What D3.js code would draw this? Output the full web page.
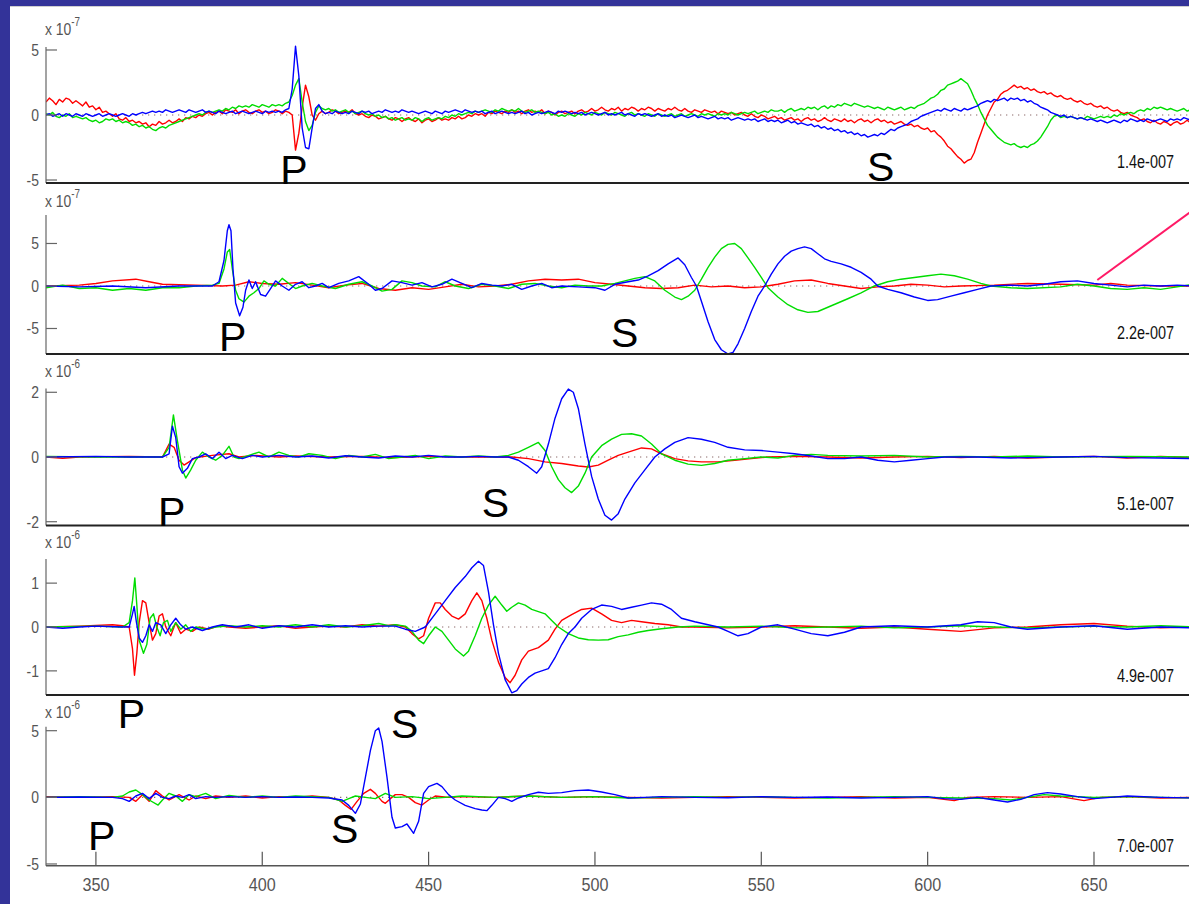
<html>
<meta name="viewport" content="width=device-width, initial-scale=1">
<head>
<script src="https://d3js.org/d3.v7.js"></script>
<style>
  body { margin: 0; background: #333399; }
  svg { display: block; }
</style>
</head>
<body>
<svg width="1189" height="904"></svg>
<script>
// ---- data (time axis in samples, amplitudes in axis units) ----
var xTicks = [350, 400, 450, 500, 550, 600, 650];
var ampLabels = ["1.4e-007", "2.2e-007", "5.1e-007", "4.9e-007", "7.0e-007"];
var expLabels = ["-7", "-7", "-6", "-6", "-6"];
var yTicks1 = [-5, 0, 5], yTicks2 = [-5, 0, 5], yTicks3 = [-2, 0, 2], yTicks4 = [-1, 0, 1], yTicks5 = [-5, 0, 5];

// panel 1: noisy record, one value per sample from 335 to 680
var p1Times = d3.range(335, 681, 1);
var p1Red = [1.0,1.3,1.1,0.8,1.2,1.0,1.3,1.2,0.9,1.1, 0.9,0.7,1.0,0.6,0.7,0.4,0.6,0.2,0.3,0.1,
 -0.1,0.1,-0.3,-0.4,-0.2,-0.5,-0.4,-0.6,-0.5,-0.7, -0.6,-0.9,-0.7,-0.8,-0.5,-0.7,-0.6,-0.4,-0.6,-0.5,
 -0.3,-0.5,-0.2,-0.3,-0.1,-0.2,0.0,-0.1,0.1,0.2, 0.0,0.2,0.3,0.1,0.4,0.3,0.2,0.4,0.1,0.3,
 0.4,0.2,0.1,0.3,0.4,0.2,0.3,0.1,0.2,0.4, 0.3,0.1,0.3,0.2,0.0,-2.7,-1.4,0.6,2.3,1.4,
 0.0,-0.4,0.1,0.3,0.1,0.2,0.4,0.3,0.1,0.2, 0.3,0.2,0.4,0.1,0.0,0.1,-0.1,-0.2,0.0,-0.1,
 -0.3,-0.2,-0.1,-0.3,-0.4,-0.2,-0.3,-0.5,-0.3,-0.2, -0.4,-0.5,-0.3,-0.6,-0.4,-0.3,-0.5,-0.4,-0.2,-0.4,
 -0.3,-0.4,-0.2,-0.3,-0.1,-0.3,-0.2,0.0,-0.1,0.1, 0.0,0.1,-0.1,0.2,0.1,0.3,0.2,0.1,0.3,0.2,
 0.4,0.2,0.3,0.1,0.3,0.4,0.2,0.3,0.2,0.4, 0.1,0.3,0.2,0.0,0.2,0.3,0.1,0.2,0.3,0.1,
 0.3,0.4,0.2,0.3,0.5,0.3,0.4,0.6,0.4,0.3, 0.5,0.4,0.6,0.3,0.5,0.4,0.6,0.5,0.3,0.5,
 0.4,0.6,0.5,0.3,0.5,0.4,0.3,0.5,0.4,0.6, 0.4,0.3,0.5,0.3,0.2,0.4,0.3,0.2,0.4,0.3,
 0.2,0.3,0.1,0.3,0.2,0.1,0.2,0.0,0.1,0.2, 0.0,-0.1,0.1,-0.1,-0.2,0.0,-0.1,-0.3,-0.2,-0.1,
 -0.3,-0.2,-0.4,-0.3,-0.2,-0.4,-0.3,-0.5,-0.3,-0.2, -0.4,-0.3,-0.5,-0.4,-0.2,-0.4,-0.5,-0.3,-0.4,-0.5,
 -0.3,-0.5,-0.4,-0.6,-0.4,-0.3,-0.5,-0.4,-0.6,-0.4, -0.3,-0.5,-0.4,-0.6,-0.5,-0.7,-0.6,-0.5,-0.7,-0.8,
 -0.7,-0.9,-0.8,-1.0,-1.1,-1.0,-1.3,-1.2,-1.5,-1.7, -2.0,-2.4,-2.6,-2.9,-3.2,-3.4,-3.7,-3.5,-3.4,-2.9,
 -2.1,-1.4,-0.7,0.0,0.5,1.0,1.2,1.6,1.8,1.9, 2.1,2.3,2.1,2.2,2.0,2.1,1.9,2.0,1.8,1.7,
 1.8,1.6,1.7,1.5,1.4,1.5,1.3,1.2,1.3,1.1, 1.0,1.1,0.9,0.8,0.9,0.7,0.6,0.7,0.5,0.6,
 0.4,0.3,0.4,0.2,0.1,0.2,0.0,-0.1,-0.2,-0.4, -0.3,-0.5,-0.6,-0.4,-0.6,-0.7,-0.5,-0.6,-0.8,-0.6,
 -0.5,-0.7,-0.6,-0.4,-0.6,-0.7];
var p1Green = [0.1,0.0,0.2,-0.1,-0.2,0.0,-0.1,0.1,-0.2,-0.1, -0.2,-0.3,-0.2,-0.4,-0.5,-0.4,-0.6,-0.5,-0.3,-0.4,
 -0.3,-0.5,-0.4,-0.6,-0.5,-0.6,-0.8,-0.7,-0.9,-0.8, -1.0,-0.9,-1.1,-1.2,-1.0,-0.9,-1.0,-0.8,-0.7,-0.6,
 -0.5,-0.4,-0.3,-0.2,-0.1,0.0,0.1,0.0,0.2,0.3, 0.2,0.3,0.4,0.3,0.5,0.4,0.6,0.5,0.7,0.6,
 0.7,0.6,0.8,0.7,0.6,0.8,0.7,0.6,0.8,0.7, 0.8,0.7,0.9,1.0,1.5,2.3,2.8,1.0,-0.5,-1.2,
 -0.8,0.2,0.7,0.5,0.4,0.5,0.3,0.4,0.2,0.3, 0.4,0.2,0.3,0.1,0.2,0.3,0.1,0.0,0.1,-0.1,
 0.0,-0.2,-0.1,-0.3,-0.2,-0.4,-0.3,-0.2,-0.4,-0.3, -0.4,-0.2,-0.3,-0.5,-0.3,-0.2,-0.4,-0.3,-0.2,-0.3,
 -0.1,-0.2,0.0,-0.1,0.1,0.0,0.1,0.2,0.1,0.3, 0.2,0.3,0.4,0.3,0.2,0.4,0.3,0.5,0.4,0.3,
 0.4,0.3,0.5,0.3,0.2,0.3,0.4,0.2,0.3,0.2, 0.1,0.2,0.0,0.1,-0.1,0.0,-0.1,0.1,0.0,-0.1,
 0.1,0.0,0.2,0.1,0.0,0.2,0.1,0.0,0.2,0.1, 0.0,0.2,0.1,0.0,-0.1,0.1,0.2,0.0,0.1,0.0,
 -0.1,0.1,0.0,-0.1,0.1,0.0,-0.1,0.0,0.1,-0.1, 0.0,0.1,-0.1,0.0,0.1,0.0,-0.1,0.1,0.0,0.1,
 0.0,-0.1,0.1,0.0,0.1,0.0,0.2,0.1,0.0,0.1, 0.2,0.1,0.2,0.3,0.1,0.2,0.3,0.2,0.4,0.3,
 0.3,0.4,0.2,0.4,0.5,0.3,0.4,0.5,0.4,0.6, 0.5,0.6,0.4,0.6,0.7,0.5,0.7,0.6,0.8,0.7,
 0.9,0.8,0.7,0.9,0.8,0.7,0.6,0.7,0.6,0.5, 0.6,0.5,0.4,0.6,0.5,0.4,0.5,0.6,0.4,0.5,
 0.6,0.5,0.7,0.8,0.9,1.1,1.3,1.4,1.6,1.9, 2.0,2.3,2.4,2.5,2.6,2.8,2.6,2.4,1.9,1.3,
 0.8,0.2,-0.3,-0.8,-1.1,-1.4,-1.7,-1.9,-2.1,-2.2, -2.3,-2.2,-2.4,-2.5,-2.4,-2.5,-2.3,-2.2,-2.0,-1.7,
 -1.3,-0.9,-0.4,-0.1,0.0,-0.2,-0.1,-0.2,-0.1,-0.2, -0.3,-0.2,-0.3,-0.1,-0.2,-0.3,-0.2,-0.1,-0.2,-0.1,
 -0.2,0.0,-0.1,0.1,0.0,0.1,0.2,0.1,0.3,0.4, 0.3,0.5,0.4,0.6,0.5,0.6,0.5,0.4,0.5,0.4,
 0.3,0.4,0.5,0.3,0.4,0.5];
var p1Blue = [0.0,0.1,-0.1,0.0,0.1,-0.1,0.1,0.0,-0.1,0.1, 0.0,-0.1,0.1,0.0,-0.1,0.0,0.1,-0.1,0.0,0.1,
 0.0,-0.1,0.0,0.1,0.0,-0.1,0.1,0.0,0.1,0.2, 0.1,0.2,0.3,0.2,0.3,0.2,0.4,0.3,0.2,0.3,
 0.4,0.3,0.2,0.4,0.3,0.2,0.3,0.4,0.2,0.3, 0.2,0.1,0.3,0.2,0.1,0.2,0.3,0.1,0.2,0.3,
 0.2,0.1,0.2,0.3,0.2,0.1,0.3,0.2,0.3,0.2, 0.3,0.2,0.4,0.5,2.0,5.3,3.0,-1.0,-2.5,-2.6,
 -1.0,0.5,0.8,0.3,0.1,0.2,0.1,0.3,0.2,0.1, 0.2,0.1,0.3,0.2,0.1,0.3,0.2,0.3,0.1,0.2,
 0.3,0.2,0.4,0.3,0.2,0.3,0.2,0.4,0.3,0.2, 0.3,0.2,0.1,0.2,0.3,0.2,0.1,0.3,0.2,0.1,
 0.3,0.2,0.3,0.4,0.3,0.2,0.4,0.3,0.2,0.3, 0.2,0.3,0.1,0.2,0.3,0.1,0.2,0.3,0.2,0.1,
 0.2,0.1,0.2,0.3,0.1,0.2,0.0,0.1,0.2,0.1, 0.2,0.3,0.2,0.1,0.3,0.2,0.3,0.2,0.1,0.2,
 0.1,0.2,0.0,0.1,0.2,0.1,0.0,0.1,0.2,0.0, 0.1,0.0,0.1,0.2,0.0,0.1,0.0,-0.1,0.1,0.0,
 0.1,0.0,-0.1,0.0,0.1,-0.1,0.0,-0.1,0.0,-0.2, -0.1,0.0,-0.1,-0.2,-0.1,0.0,-0.2,-0.1,-0.2,-0.3,
 -0.2,-0.1,-0.3,-0.2,-0.3,-0.2,-0.4,-0.3,-0.2,-0.3, -0.4,-0.3,-0.4,-0.3,-0.5,-0.4,-0.3,-0.5,-0.4,-0.5,
 -0.4,-0.6,-0.5,-0.4,-0.6,-0.5,-0.7,-0.6,-0.7,-0.8, -0.7,-0.9,-0.8,-1.0,-0.9,-1.1,-1.0,-1.2,-1.1,-1.3,
 -1.2,-1.4,-1.3,-1.5,-1.4,-1.6,-1.5,-1.7,-1.6,-1.5, -1.6,-1.4,-1.5,-1.3,-1.1,-1.2,-1.0,-0.9,-0.8,-0.7,
 -0.5,-0.4,-0.3,-0.1,0.0,0.1,0.2,0.3,0.4,0.3, 0.5,0.4,0.3,0.5,0.4,0.3,0.5,0.4,0.5,0.6,
 0.7,0.9,1.0,1.1,1.0,1.2,1.1,1.2,1.3,1.1, 1.3,1.2,1.3,1.1,1.2,1.0,1.1,0.9,0.8,0.6,
 0.5,0.4,0.2,0.1,0.0,-0.1,0.0,-0.2,-0.1,-0.2, -0.3,-0.2,-0.3,-0.4,-0.3,-0.4,-0.5,-0.4,-0.5,-0.6,
 -0.5,-0.4,-0.5,-0.6,-0.4,-0.5,-0.3,-0.4,-0.5,-0.4, -0.5,-0.3,-0.4,-0.5,-0.4,-0.3,-0.4,-0.5,-0.3,-0.4,
 -0.3,-0.4,-0.2,-0.3,-0.4,-0.3];

// panel 2 ([time, value] pairs)
var p2Red = [[335,0],[345,0.1],[350,0.3],[355,0.6],[362,0.8],[366,0.5],[370,0.2],[380,0.1],[388,0],[392,0.1],[396,0.5],[400,0.3],[405,0.2],[410,0.4],[415,0.1],[420,-0.2],[425,0.1],[430,0.3],[435,-0.3],[440,-0.5],[445,-0.2],[450,-0.4],[455,-0.1],[460,0.2],[465,-0.1],[470,0],[475,0.2],[480,0.6],[485,0.8],[490,0.7],[495,0.8],[500,0.4],[505,0.2],[510,0.0],[515,-0.2],[520,-0.3],[525,-0.2],[530,0.1],[535,-0.1],[540,0],[545,-0.2],[550,-0.1],[555,0.2],[560,0.6],[565,0.7],[570,0.3],[575,0],[580,-0.3],[585,-0.1],[590,0],[595,0.2],[600,0.1],[605,-0.1],[610,0],[620,0.1],[630,0.3],[640,0.2],[650,0.1],[655,0.3],[660,0.1],[670,0],[680,0]];
var p2Green = [[335,-0.2],[340,0.1],[345,-0.3],[350,-0.2],[355,-0.5],[360,-0.3],[365,-0.5],[370,-0.2],[375,-0.2],[380,0],[385,0.1],[387,0.3],[388.5,2],[389.5,4],[390.2,4.3],[391,2],[392,-0.5],[393,-1.5],[394.5,-1.9],[396,-1.2],[397.5,-0.8],[399,-0.3],[400.5,0.6],[402,0.2],[404,0],[406,0.9],[408,0.3],[410,-0.3],[412,0],[415,0.3],[418,0],[422,-0.3],[426,0.2],[430,0.5],[433,0],[436,-0.6],[439,-0.4],[442,0.6],[445,0.4],[448,0],[452,-0.1],[455,0.5],[458,0],[462,-0.3],[466,0.2],[470,0],[474,-0.3],[478,0.2],[482,0.3],[486,0],[490,-0.2],[494,0.1],[498,0],[502,0],[506,0.3],[509,0.6],[512,0.9],[515,1.1],[518,0.6],[521,-0.5],[524,-1.3],[526,-1.6],[528,-1.2],[530,-0.5],[532,0.8],[534,2.2],[536,3.4],[538,4.4],[540,4.9],[542,5.0],[544,4.4],[546,3.3],[548,2.2],[550,1.0],[552,-0.2],[555,-1.3],[558,-2.2],[561,-2.8],[564,-3.1],[567,-3.0],[570,-2.5],[573,-2.0],[576,-1.5],[580,-0.8],[584,0],[588,0.5],[592,0.8],[596,1.0],[600,1.2],[604,1.4],[608,1.2],[612,0.8],[616,0.3],[619,0],[625,-0.2],[630,-0.3],[640,-0.1],[645,0.2],[650,0],[655,-0.3],[660,-0.4],[665,-0.2],[670,-0.4],[675,-0.1],[680,0.2]];
var p2Blue = [[335,0],[345,-0.1],[355,0],[365,-0.2],[375,0],[385,0],[387,0.5],[388.5,3],[389.5,6.5],[390,7.2],[390.6,6.5],[391.2,2],[392,-2],[393.2,-3.5],[394.2,-2.5],[395,-0.5],[396,0.7],[397,-0.3],[398,0.5],[399.5,-1.0],[401,-1.2],[402.5,-0.3],[404,0.6],[406,0],[408,-0.5],[410,0.2],[412,0.5],[414,-0.2],[416,0],[418,0.3],[420,-0.2],[423,0.3],[426,0.6],[429,1.1],[432,0.2],[434,-0.5],[436,-0.3],[439,0.6],[442,0.4],[445,0.1],[448,0.4],[451,-0.1],[454,0.2],[457,0.8],[460,0.3],[463,-0.2],[466,0.3],[469,0.1],[472,0],[475,0.2],[478,-0.4],[481,0],[484,0.3],[487,-0.2],[490,0],[495,-0.1],[500,-0.2],[503,-0.5],[506,0.2],[510,0.5],[513,0.7],[516,1.2],[519,1.8],[522,2.6],[525,3.3],[527,2.5],[529,1],[530.5,0],[532,-1.8],[534,-4.2],[536,-6.3],[538,-7.5],[540,-8],[541.5,-7.8],[543,-6.8],[545,-5],[547,-3],[549,-1.2],[551,0],[553,1.4],[555,2.6],[557,3.5],[559,4.1],[561,4.4],[563,4.6],[565,4.4],[567,3.8],[569,3.2],[571,2.9],[574,2.6],[577,2.2],[580,1.6],[583,0.8],[585,0],[588,-0.4],[592,-0.8],[596,-1.3],[600,-1.7],[603,-1.6],[607,-1.2],[611,-0.8],[615,-0.4],[619,0],[625,0.1],[630,0],[635,0.2],[640,0.5],[645,0.6],[650,0.3],[655,0.1],[660,-0.1],[665,0.1],[670,0],[675,0.1],[680,0]];
// annotation stroke in panel 2
var p2Pointer = [[651,0.7],[680,9.0]];

// panel 3
var p3Red = [[335,0],[340,-0.04],[345,0],[360,0.02],[370,0],[372,0.4],[373.5,0.3],[375,-0.1],[376.5,-0.25],[378,-0.15],[380,-0.02],[385,0.05],[390,0.1],[393,0],[398,0.05],[405,0],[410,0.03],[420,0],[430,0.02],[440,-0.02],[450,0.02],[460,0],[470,0],[475,0],[480,-0.05],[485,-0.15],[490,-0.2],[495,-0.28],[498,-0.31],[501,-0.25],[504,-0.1],[507,0.05],[510,0.15],[514,0.28],[517,0.25],[520,0.1],[524,-0.05],[528,-0.12],[532,-0.15],[537,-0.15],[542,-0.1],[547,-0.05],[552,0],[560,0.02],[570,0],[580,-0.03],[590,0],[600,0.02],[610,-0.02],[620,0.02],[630,-0.03],[640,0],[650,0.02],[660,-0.03],[670,0.02],[680,-0.02]];
var p3Green = [[335,0.02],[350,0],[360,0],[370,0],[372,0.3],[373.3,1.3],[374.5,0.5],[376,-0.4],[377,-0.65],[378.5,-0.4],[380,-0.1],[382,0.15],[384,0],[386,-0.1],[388,0.05],[390,0.33],[391.5,0],[393,-0.05],[396,0.05],[399,0.15],[402,0],[405,0.15],[408,0.05],[411,0],[414,0.1],[418,0.05],[422,-0.05],[426,0.05],[430,0],[434,0.08],[438,-0.05],[442,0],[446,0.05],[450,-0.05],[455,0.03],[460,0],[465,0.03],[470,0],[474,0.05],[477,0.15],[480,0.3],[483,0.45],[485,0.2],[487,-0.3],[489,-0.7],[491,-0.95],[493,-1.1],[495,-0.9],[497,-0.5],[499,0],[502,0.35],[505,0.55],[508,0.7],[511,0.72],[514,0.65],[517,0.4],[520,0.1],[524,-0.1],[528,-0.22],[532,-0.26],[536,-0.2],[540,-0.1],[545,-0.05],[550,0],[555,-0.03],[560,0.05],[565,0.08],[570,0.05],[580,0.03],[590,0.05],[600,0],[610,0.02],[620,0],[630,0.03],[640,0],[660,0.02],[680,0]];
var p3Blue = [[335,0],[350,0.02],[360,0],[370,0],[372,0.1],[373,0.95],[374,0.6],[375,-0.3],[376,-0.5],[377.5,-0.35],[379,-0.05],[381,0],[383,0.1],[385,-0.05],[387,0.15],[389,-0.05],[391,0.05],[394,-0.05],[397,0.05],[400,0],[405,0.05],[410,0],[415,0.03],[420,-0.03],[425,0.04],[430,0],[435,-0.03],[440,0.03],[445,0],[450,0.05],[455,0],[460,0],[465,0.02],[470,0],[474,0],[477,-0.1],[480,-0.3],[482.5,-0.5],[484,-0.3],[486,0.4],[488,1.2],[490,1.8],[492,2.1],[493.5,2.0],[495,1.5],[497,0.4],[499,-0.6],[501,-1.3],[503,-1.8],[505,-1.95],[507,-1.75],[509,-1.3],[512,-0.8],[515,-0.4],[518,0],[521,0.25],[524,0.45],[528,0.6],[532,0.55],[536,0.45],[540,0.3],[545,0.22],[550,0.2],[555,0.15],[560,0.1],[565,0.03],[570,-0.05],[575,-0.05],[580,0],[585,-0.1],[590,-0.15],[595,-0.1],[600,-0.05],[605,0],[615,0],[625,-0.03],[640,0],[650,0.02],[660,-0.02],[670,-0.03],[680,-0.05]];

// panel 4
var p4Red = [[335,0],[345,0.02],[355,0.05],[358,0.03],[360,0],[361,-0.5],[361.6,-1.1],[362.3,-0.6],[363,0.1],[364,0.6],[365,0.55],[366,0.1],[367,-0.3],[368,-0.15],[369,0.25],[370,0.3],[371,0],[372.5,-0.2],[374,0.1],[375.5,-0.15],[377,-0.05],[379,-0.1],[381,0],[384,-0.05],[387,0.03],[390,0],[395,-0.03],[400,0],[405,0.03],[410,-0.03],[415,0],[420,0.02],[425,0],[430,0.05],[435,0.02],[440,0.05],[443,0],[445,-0.15],[447,-0.27],[448.5,-0.2],[450,0.2],[452,0.55],[453.5,0.55],[455,0.4],[457,0.25],[459,0.18],[461,0.3],[463,0.6],[464.5,0.78],[466,0.6],[467.5,0.2],[469,-0.3],[471,-0.8],[473,-1.15],[474.5,-1.27],[476,-1.1],[478,-0.75],[480,-0.55],[483,-0.47],[486,-0.3],[488,-0.05],[490,0.15],[493,0.28],[496,0.4],[499,0.43],[502,0.3],[505,0.15],[508,0.1],[511,0.15],[514,0.12],[518,0.08],[522,0.05],[526,0],[530,0],[540,-0.02],[550,0],[560,0.03],[570,0],[580,-0.03],[590,0],[600,-0.05],[610,-0.1],[620,-0.02],[630,0],[640,0.05],[650,0.08],[660,0.02],[670,-0.02],[680,0]];
var p4Green = [[335,0],[350,0.02],[358,0],[360,0.1],[361,0.6],[361.7,1.12],[362.3,0.5],[363,-0.3],[364.3,-0.6],[365.3,-0.4],[366.3,0.2],[367.3,0.3],[368.3,0],[369.3,-0.2],[370.3,0.1],[371.5,0.15],[372.5,-0.1],[374,0.1],[375.5,-0.05],[377,0.05],[378.5,-0.1],[380,0],[383,-0.05],[386,0],[390,0.03],[395,0],[400,0.03],[405,0],[410,0.05],[415,0],[420,0.05],[425,0],[430,0.03],[435,0.08],[438,0.03],[440,0.05],[443,0.02],[445,-0.1],[447,-0.3],[448.5,-0.38],[450,-0.2],[452,0],[454,-0.1],[456,-0.3],[458,-0.5],[460.5,-0.66],[462,-0.55],[464,-0.2],[466,0.2],[468,0.5],[470,0.7],[472,0.5],[473.5,0.36],[475,0.45],[477,0.55],[479,0.5],[481,0.4],[483,0.35],[485,0.3],[487,0.15],[489,0],[492,-0.15],[495,-0.25],[498,-0.29],[501,-0.3],[504,-0.29],[507,-0.22],[510,-0.18],[513,-0.12],[516,-0.08],[520,-0.04],[525,0],[530,0.02],[540,0],[550,0.02],[560,-0.02],[570,0],[580,0.02],[590,-0.02],[600,0],[610,0.03],[620,0],[630,-0.02],[640,0],[650,0.02],[660,0],[670,0.03],[680,0]];
var p4Blue = [[335,0],[340,-0.03],[345,0],[350,0.02],[358,0],[360,0],[361,0.3],[361.5,0.47],[362.2,0.1],[363,-0.25],[364,-0.35],[365,-0.2],[366,0.05],[367,-0.1],[368,0.1],[369.5,0.05],[371,-0.15],[372.5,0.05],[374,0.2],[375.5,0.05],[377,-0.05],[379,0],[382,-0.08],[385,0],[388,0.05],[392,0],[396,0.05],[400,-0.03],[405,0.03],[410,0],[415,0.05],[420,0],[425,0.03],[430,0],[435,0.02],[440,0.02],[443,-0.05],[446,-0.1],[449,0],[452,0.3],[455,0.6],[458,0.9],[461,1.15],[463,1.35],[465,1.5],[466.5,1.4],[468,0.8],[469.5,0.05],[471,-0.6],[473,-1.2],[475,-1.5],[476.5,-1.45],[478,-1.3],[480,-1.15],[482,-1.05],[484,-1.0],[486,-0.95],[488,-0.7],[490,-0.4],[492,-0.15],[494,0],[496,0.2],[499,0.4],[502,0.5],[505,0.47],[508,0.4],[511,0.45],[514,0.5],[517,0.55],[520,0.52],[523,0.4],[526,0.2],[530,0.12],[534,0.05],[537,0],[540,-0.1],[543,-0.2],[546,-0.15],[550,0],[555,0.05],[560,-0.05],[565,-0.15],[570,-0.2],[575,-0.12],[580,0],[590,0.03],[600,0],[610,0.05],[615,0.12],[620,0.1],[625,0],[630,-0.05],[640,0],[650,0.03],[660,-0.05],[670,0],[680,-0.02]];

// panel 5
var p5Red = [[335,0.05],[345,0],[355,0.05],[360,0],[362,-0.3],[364,0.2],[366,-0.3],[368,0.5],[370,0.1],[372,-0.2],[375,0.2],[378,-0.2],[380,0.1],[383,-0.1],[386,0.1],[390,0],[395,0.1],[400,-0.05],[405,0.05],[410,0],[415,0.1],[420,0],[423,-0.2],[425,-0.6],[426.7,-0.9],[428.5,-0.3],[430.5,0.3],[432.5,0.6],[434,0.3],[436,-0.3],[437,-0.45],[438.5,-0.1],[440,0.2],[442,0.2],[444,0],[446,-0.4],[448,-0.58],[450,-0.2],[452,0.1],[456,0],[460,0.05],[470,0],[480,0.1],[490,0],[500,0.05],[510,0],[520,-0.05],[530,0],[540,0.05],[550,0],[560,-0.05],[570,0],[580,0.05],[590,-0.05],[600,0],[608,-0.25],[612,0],[620,0.05],[630,0],[640,0.05],[647,-0.25],[652,0],[660,0.05],[670,-0.05],[680,0]];
var p5Green = [[335,0],[345,0.05],[355,0],[358,0.1],[360,0.4],[362,0.55],[364,0.2],[366,-0.2],[368.7,-0.58],[370,-0.2],[372,0.3],[374,0.1],[376,-0.3],[378,0.2],[380,0.05],[383,0.3],[386,-0.1],[390,0.15],[395,0],[400,0.1],[405,0],[410,0.1],[420,0],[424,-0.3],[426,-0.1],[428,0.1],[431,0],[434,-0.1],[437,0.3],[440,0],[445,0.05],[450,-0.1],[455,0],[460,0.1],[470,0],[480,0.1],[490,0],[500,0.05],[510,-0.05],[520,0],[530,0.05],[540,0],[550,0.05],[560,0],[570,-0.05],[580,0],[590,0.05],[600,0],[610,-0.05],[620,-0.1],[625,-0.2],[630,0],[635,0.2],[640,0.1],[650,0],[660,0.05],[670,0],[680,-0.05]];
var p5Blue = [[335,0],[345,0.03],[355,0],[358,-0.1],[360,-0.3],[362,0.1],[364,0.3],[366,-0.1],[368,0.3],[370,0],[372,-0.1],[374,0.1],[376,0],[378,0.2],[380,-0.1],[383,0.05],[386,0],[390,0.05],[395,0],[400,0.05],[405,0],[410,0.02],[415,0],[420,-0.05],[424,-0.2],[426,-0.6],[428,-1.2],[429.5,-0.5],[431,1.5],[432.5,3.5],[434,5.0],[435,5.2],[436,4.2],[437.5,1.5],[439,-1.5],[440,-2.3],[442,-2.2],[443.5,-2.0],[445.5,-2.7],[447,-1.8],[448.5,0.3],[450,0.8],[452.5,1.05],[454,0.8],[456,0.2],[458,-0.2],[461,-0.6],[464,-0.85],[466,-0.95],[467.5,-1.0],[469,-0.6],[471,0],[473,-0.1],[475,-0.3],[477,-0.05],[480,0.2],[483,0.38],[486,0.3],[490,0.35],[494,0.5],[498,0.55],[502,0.4],[506,0.2],[510,-0.05],[515,0],[520,0.05],[530,0],[540,-0.03],[550,0.05],[560,0],[570,0.03],[580,-0.05],[590,0],[600,0.05],[605,-0.1],[610,-0.15],[615,0],[620,-0.2],[624,-0.35],[628,-0.15],[632,0.2],[636,0.35],[640,0.25],[645,0.05],[650,-0.1],[655,0],[660,0.1],[670,0],[680,-0.05]];

// phase picks: [time, value] where each letter sits (left edge, baseline)
var pPicks = [[405.4, -5.3], [387.0, -7.65], [368.7, -2.12], [356.6, -2.3], [347.6, -3.95]];
var sPicks = [[581.8, -5.05], [504.8, -7.18], [466.0, -1.85], [438.7, -2.53], [420.7, -3.43]];

// ---- layout ----
var panels = [
  {red: p1Times.map(function(t, i){ return [t, p1Red[i]]; }),
   green: p1Times.map(function(t, i){ return [t, p1Green[i]]; }),
   blue: p1Times.map(function(t, i){ return [t, p1Blue[i]]; }),
   domain: [-5.23, 5.23], range: [183, 47], ticks: yTicks1, expY: 35, ampY: 168},
  {red: p2Red, green: p2Green, blue: p2Blue,
   domain: [-8, 8.35], range: [354, 215], ticks: yTicks2, expY: 207, ampY: 339},
  {red: p3Red, green: p3Green, blue: p3Blue,
   domain: [-2.12, 2.12], range: [525.6, 388.4], ticks: yTicks3, expY: 377, ampY: 510},
  {red: p4Red, green: p4Green, blue: p4Blue,
   domain: [-1.55, 1.55], range: [695, 559], ticks: yTicks4, expY: 548, ampY: 682},
  {red: p5Red, green: p5Green, blue: p5Blue,
   domain: [-5.13, 5.3], range: [865.7, 726.7], ticks: yTicks5, expY: 718, ampY: 852}
];

var sans = "'Liberation Sans', Arial, sans-serif";
var x = d3.scaleLinear().domain([335, 680]).range([46, 1193.8]);

// squeezed text, to get the tall narrow matlab font
function narrowText(g, px, py, anchor, size, sx, fill, str) {
  return g.append("text")
    .attr("transform", "translate(" + px + "," + py + ") scale(" + sx + ",1)")
    .attr("text-anchor", anchor)
    .style("font-family", sans).style("font-size", size + "px").style("fill", fill)
    .text(str);
}

var mySvg = d3.select("svg");
mySvg.append("rect").attr("x", 0).attr("y", 0).attr("width", 1189).attr("height", 904).style("fill", "#333399");
mySvg.append("rect").attr("x", 10).attr("y", 6).attr("width", 1179).attr("height", 898).style("fill", "white");
mySvg.append("line").attr("x1", 10).attr("x2", 1189).attr("y1", 6.5).attr("y2", 6.5)
  .style("stroke", "#cfcfcf").style("stroke-width", 1);

var defs = mySvg.append("defs");

panels.forEach(function(p, k) {
  var y = d3.scaleLinear().domain(p.domain).range(p.range);
  var g = mySvg.append("g").attr("id", "panel" + k);

  defs.append("clipPath").attr("id", "clip" + k)
    .append("rect").attr("x", 46).attr("y", p.range[1] - 2)
    .attr("width", 1189 - 46).attr("height", p.range[0] - p.range[1] + 2);

  // zero reference, dotted
  g.append("line")
    .attr("x1", x(335)).attr("x2", 1189)
    .attr("y1", y(0)).attr("y2", y(0))
    .style("stroke", "#8c6a6a").style("stroke-width", 1.2)
    .style("stroke-dasharray", "1.3,4.7");

  var line = d3.line().x(function(d){ return x(d[0]); }).y(function(d){ return y(d[1]); });
  var traces = g.append("g").attr("clip-path", "url(#clip" + k + ")");
  [["red", "#ff0000"], ["green", "#00dd00"], ["blue", "#0000ff"]].forEach(function(c) {
    traces.append("path").datum(p[c[0]]).attr("d", line)
      .style("fill", "none").style("stroke", c[1]).style("stroke-width", 1.4)
      .style("stroke-linejoin", "round");
  });

  if (k === 1) {
    g.append("path").datum(p2Pointer).attr("d", line)
      .style("fill", "none").style("stroke", "#ff1a66").style("stroke-width", 2);
  }

  // left axis
  g.append("line").attr("x1", 46).attr("x2", 46)
    .attr("y1", p.range[1]).attr("y2", p.range[0])
    .style("stroke", "#666").style("stroke-width", 1.2);
  p.ticks.forEach(function(t) {
    g.append("line").attr("x1", 46).attr("x2", 57).attr("y1", y(t)).attr("y2", y(t))
      .style("stroke", "#666").style("stroke-width", 1.2);
    narrowText(g, 39, y(t) + 6, "end", 17, 0.82, "#555", t < 0 ? "-" + Math.abs(t) : String(t));
  });

  // exponent label
  var ex = g.append("text")
    .attr("transform", "translate(45," + p.expY + ") scale(0.82,1)")
    .style("font-family", sans).style("font-size", "17px").style("fill", "#555");
  ex.append("tspan").text("x 10");
  ex.append("tspan").attr("dy", -9).style("font-size", "12px").text(expLabels[k]);

  // bottom axis line
  g.append("line").attr("x1", 46).attr("x2", 1189)
    .attr("y1", p.range[0]).attr("y2", p.range[0])
    .style("stroke", k < 4 ? "#222" : "#555").style("stroke-width", k < 4 ? 2 : 1.5);

  // amplitude label
  narrowText(g, 1174, p.ampY, "end", 19, 0.76, "#111", ampLabels[k]);

  // phase letters
  g.append("text").attr("x", x(pPicks[k][0])).attr("y", y(pPicks[k][1]))
    .style("font-family", sans).style("font-size", "41px")
    .style("fill", "black").text("P");
  g.append("text").attr("x", x(sPicks[k][0])).attr("y", y(sPicks[k][1]))
    .style("font-family", sans).style("font-size", "41px")
    .style("fill", "black").text("S");

  if (k === 4) {
    xTicks.forEach(function(t) {
      g.append("line").attr("x1", x(t)).attr("x2", x(t))
        .attr("y1", p.range[0]).attr("y2", p.range[0] - 14)
        .style("stroke", "#555").style("stroke-width", 1.2);
      narrowText(g, x(t), 891, "middle", 19, 0.85, "#555", String(t));
    });
  }
});
</script>
</body>
</html>
